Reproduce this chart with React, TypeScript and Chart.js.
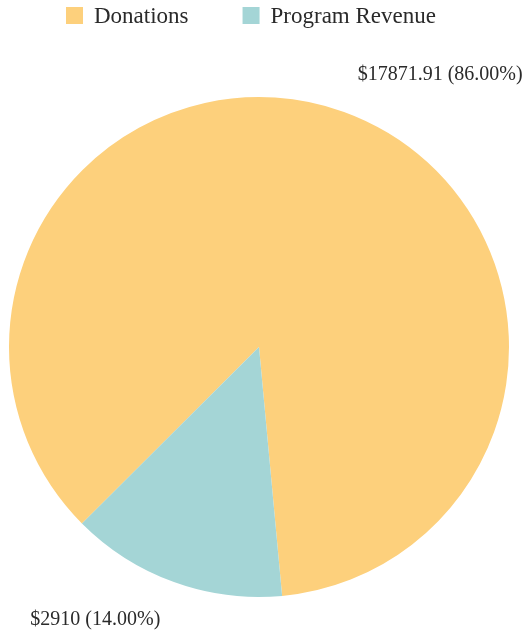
import React, { useEffect, useRef } from "react";
import { Chart, registerables } from "chart.js";

Chart.register(...registerables);

const categories: string[] = ["Donations", "Program Revenue"];
const amounts: number[] = [17871.91, 2910];
const amountLabels: string[] = ["$17871.91", "$2910"];
const sliceColors: string[] = ["#FDD07C", "#A4D5D6"];

const FONT = "'Liberation Serif', 'Times New Roman', serif";

const outsideLabels = {
  id: "outsideLabels",
  afterDatasetsDraw(chart: any) {
    const ctx = chart.ctx;
    const meta = chart.getDatasetMeta(0);
    const data = chart.data.datasets[0].data as number[];
    const total = data.reduce((a, b) => a + b, 0);
    ctx.save();
    ctx.font = `20px ${FONT}`;
    ctx.fillStyle = "#2a2a2a";
    ctx.textBaseline = "middle";
    meta.data.forEach((arc: any, i: number) => {
      const p = arc.getProps(["x", "y", "startAngle", "endAngle", "outerRadius"], true);
      const mid = (p.startAngle + p.endAngle) / 2;
      const r = p.outerRadius + 40;
      const x = p.x + Math.cos(mid) * r;
      const y = p.y + Math.sin(mid) * r;
      ctx.textAlign = x >= p.x ? "left" : "right";
      const pct = ((data[i] / total) * 100).toFixed(2);
      ctx.fillText(`${amountLabels[i]} (${pct}%)`, x, y);
    });
    ctx.restore();
  },
};

const topLegend = {
  id: "topLegend",
  afterDraw(chart: any) {
    const ctx = chart.ctx;
    ctx.save();
    ctx.font = `23px ${FONT}`;
    ctx.textBaseline = "middle";
    ctx.textAlign = "left";
    let x = 66;
    const y = 15.5;
    const box = 17;
    chart.data.labels.forEach((label: string, i: number) => {
      ctx.fillStyle = sliceColors[i];
      ctx.fillRect(x, y - box / 2, box, box);
      ctx.fillStyle = "#2a2a2a";
      ctx.fillText(label, x + box + 11, y + 1);
      x += box + 11 + ctx.measureText(label).width + 54;
    });
    ctx.restore();
  },
};

export default function App() {
  const ref = useRef<HTMLCanvasElement | null>(null);
  useEffect(() => {
    if (!ref.current) return;
    const chart = new Chart(ref.current, {
      type: "pie",
      data: {
        labels: categories,
        datasets: [
          {
            data: amounts,
            backgroundColor: sliceColors,
            borderWidth: 0,
          },
        ],
      },
      options: {
        animation: false,
        responsive: true,
        maintainAspectRatio: false,
        rotation: 225.1,
        layout: { padding: { left: 9, right: 16, top: 97, bottom: 37 } },
        plugins: {
          legend: { display: false },
          tooltip: { enabled: false },
        },
      },
      plugins: [outsideLabels, topLegend],
    });
    return () => chart.destroy();
  }, []);
  return (
    <div style={{ position: "absolute", left: 0, top: 0, width: 525, height: 634, background: "#fff" }}>
      <canvas ref={ref} />
    </div>
  );
}
